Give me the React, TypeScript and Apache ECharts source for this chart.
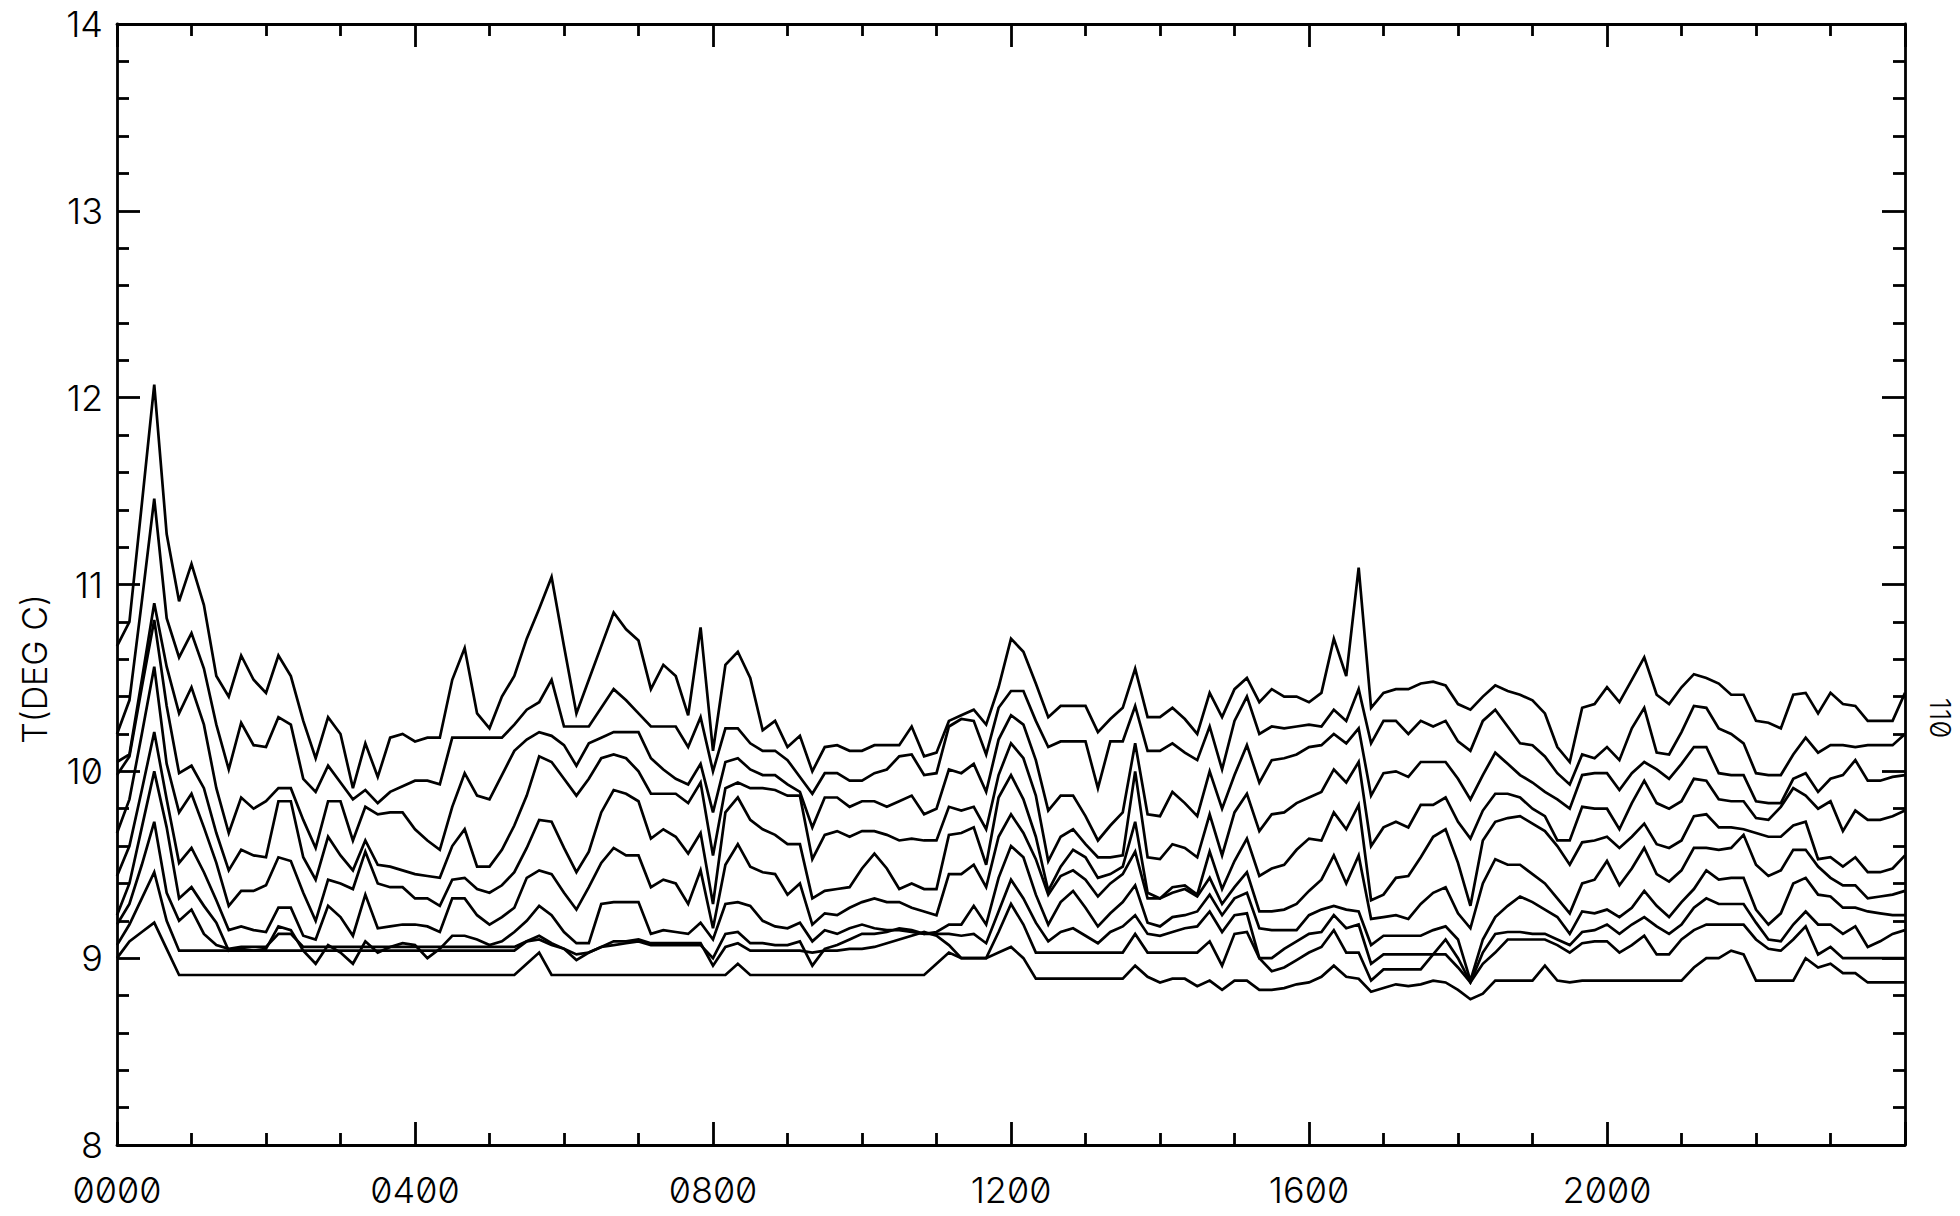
import React, { useEffect, useRef } from "react";
import * as echarts from "echarts";

// Sampling interval of the record (minutes) and axis settings
const STEP_MINUTES = 10;
const X_MIN_HOURS = 0;
const X_MAX_HOURS = 24;
const X_MAJOR_HOURS = 4;
const Y_MIN = 8;
const Y_MAX = 14;
const Y_MAJOR = 1;
const Y_NAME = "T(DEG C)";
const SIDE_NOTE = "110";

// Temperature traces (deg C), one value every 10 minutes, top trace first
const line1 = [
  10.67, 10.80, 11.43, 12.07, 11.27, 10.91, 11.11, 10.89, 10.51, 10.40,
  10.62, 10.49, 10.42, 10.62, 10.51, 10.27, 10.07, 10.29, 10.20, 9.91,
  10.15, 9.97, 10.18, 10.20, 10.16, 10.18, 10.18, 10.49, 10.66, 10.31,
  10.23, 10.40, 10.51, 10.71, 10.87, 11.04, 10.67, 10.31, 10.49, 10.67,
  10.85, 10.76, 10.70, 10.44, 10.57, 10.51, 10.30, 10.77, 10.11, 10.57,
  10.64, 10.50, 10.22, 10.27, 10.13, 10.19, 10.00, 10.13, 10.14, 10.11,
  10.11, 10.14, 10.14, 10.14, 10.24, 10.08, 10.10, 10.27, 10.30, 10.33,
  10.25, 10.45, 10.71, 10.64, 10.47, 10.29, 10.35, 10.35, 10.35, 10.21,
  10.28, 10.34, 10.55, 10.29, 10.29, 10.34, 10.28, 10.20, 10.42, 10.29,
  10.44, 10.50, 10.37, 10.44, 10.40, 10.40, 10.37, 10.42, 10.71, 10.51,
  11.09, 10.34, 10.42, 10.44, 10.44, 10.47, 10.48, 10.46, 10.36, 10.33,
  10.40, 10.46, 10.43, 10.41, 10.38, 10.31, 10.13, 10.05, 10.34, 10.36,
  10.45, 10.37, 10.49, 10.61, 10.41, 10.36, 10.45, 10.52, 10.50, 10.47,
  10.41, 10.41, 10.27, 10.26, 10.23, 10.41, 10.42, 10.31, 10.42, 10.36,
  10.35, 10.27, 10.27, 10.27, 10.42,
];
const line2 = [
  10.20, 10.38, 10.91, 11.46, 10.82, 10.61, 10.74, 10.55, 10.25, 10.01,
  10.26, 10.14, 10.13, 10.29, 10.25, 9.96, 9.89, 10.03, 9.94, 9.85,
  9.90, 9.83, 9.89, 9.92, 9.95, 9.95, 9.93, 10.18, 10.18, 10.18,
  10.18, 10.18, 10.25, 10.33, 10.37, 10.49, 10.24, 10.24, 10.24, 10.34,
  10.44, 10.38, 10.31, 10.24, 10.24, 10.24, 10.13, 10.29, 10.00, 10.23,
  10.23, 10.15, 10.11, 10.11, 10.06, 9.97, 9.88, 9.99, 9.99, 9.95,
  9.95, 9.99, 10.01, 10.08, 10.09, 9.98, 9.99, 10.24, 10.28, 10.27,
  10.09, 10.34, 10.43, 10.43, 10.27, 10.13, 10.16, 10.16, 10.16, 9.91,
  10.16, 10.16, 10.35, 10.11, 10.11, 10.15, 10.10, 10.06, 10.24, 10.01,
  10.27, 10.40, 10.20, 10.24, 10.23, 10.24, 10.25, 10.24, 10.33, 10.27,
  10.44, 10.15, 10.27, 10.27, 10.20, 10.27, 10.24, 10.27, 10.16, 10.11,
  10.27, 10.33, 10.24, 10.15, 10.14, 10.08, 9.99, 9.93, 10.09, 10.07,
  10.13, 10.06, 10.23, 10.34, 10.10, 10.09, 10.21, 10.35, 10.34, 10.23,
  10.20, 10.15, 9.99, 9.98, 9.98, 10.09, 10.18, 10.10, 10.14, 10.14,
  10.13, 10.14, 10.14, 10.14, 10.20,
];
const line3 = [
  10.05, 10.09, 10.49, 10.90, 10.56, 10.31, 10.45, 10.25, 9.91, 9.67,
  9.86, 9.80, 9.84, 9.91, 9.91, 9.74, 9.59, 9.84, 9.84, 9.63,
  9.81, 9.77, 9.78, 9.78, 9.69, 9.63, 9.58, 9.81, 9.99, 9.87,
  9.85, 9.98, 10.11, 10.17, 10.21, 10.19, 10.14, 10.03, 10.15, 10.18,
  10.21, 10.21, 10.21, 10.07, 10.01, 9.96, 9.93, 10.04, 9.78, 10.05,
  10.07, 10.01, 9.98, 9.98, 9.93, 9.89, 9.70, 9.86, 9.86, 9.81,
  9.84, 9.84, 9.81, 9.84, 9.87, 9.77, 9.80, 10.01, 9.99, 10.04,
  9.89, 10.17, 10.30, 10.25, 10.06, 9.79, 9.87, 9.87, 9.76, 9.63,
  9.71, 9.78, 10.15, 9.77, 9.76, 9.89, 9.83, 9.76, 10.00, 9.80,
  9.98, 10.14, 9.94, 10.06, 10.07, 10.09, 10.13, 10.14, 10.20, 10.15,
  10.23, 9.87, 9.99, 10.00, 9.97, 10.05, 10.05, 10.05, 9.96, 9.85,
  9.98, 10.10, 10.04, 9.98, 9.94, 9.89, 9.85, 9.80, 9.98, 9.99,
  9.99, 9.90, 9.99, 10.05, 10.01, 9.96, 10.04, 10.13, 10.13, 9.99,
  9.98, 9.98, 9.84, 9.83, 9.83, 9.96, 9.99, 9.89, 9.96, 9.98,
  10.06, 9.95, 9.95, 9.97, 9.98,
];
const line4 = [
  9.98, 10.08, 10.45, 10.81, 10.35, 9.99, 10.03, 9.91, 9.67, 9.47,
  9.58, 9.55, 9.54, 9.84, 9.84, 9.54, 9.42, 9.65, 9.55, 9.47,
  9.63, 9.50, 9.49, 9.47, 9.45, 9.44, 9.43, 9.60, 9.69, 9.49,
  9.49, 9.58, 9.71, 9.87, 10.08, 10.05, 9.96, 9.87, 9.96, 10.07,
  10.09, 10.07, 10.00, 9.88, 9.88, 9.88, 9.83, 9.94, 9.55, 9.91,
  9.94, 9.91, 9.91, 9.90, 9.87, 9.87, 9.53, 9.66, 9.68, 9.65,
  9.68, 9.68, 9.66, 9.63, 9.64, 9.63, 9.63, 9.81, 9.79, 9.81,
  9.69, 9.98, 10.15, 10.07, 9.87, 9.52, 9.65, 9.69, 9.61, 9.54,
  9.54, 9.55, 10.00, 9.54, 9.53, 9.61, 9.59, 9.54, 9.77, 9.55,
  9.78, 9.88, 9.68, 9.77, 9.78, 9.83, 9.86, 9.89, 10.01, 9.94,
  10.05, 9.60, 9.70, 9.73, 9.70, 9.82, 9.82, 9.86, 9.73, 9.64,
  9.79, 9.88, 9.88, 9.86, 9.80, 9.76, 9.63, 9.63, 9.81, 9.80,
  9.80, 9.69, 9.83, 9.95, 9.83, 9.80, 9.84, 9.96, 9.95, 9.85,
  9.84, 9.84, 9.75, 9.74, 9.81, 9.91, 9.87, 9.80, 9.84, 9.68,
  9.79, 9.74, 9.74, 9.76, 9.79,
];
const line5 = [
  9.67, 9.85, 10.20, 10.56, 10.04, 9.78, 9.88, 9.70, 9.51, 9.28,
  9.36, 9.36, 9.39, 9.54, 9.52, 9.35, 9.20, 9.42, 9.40, 9.37,
  9.57, 9.40, 9.38, 9.38, 9.32, 9.32, 9.28, 9.42, 9.43, 9.37,
  9.35, 9.39, 9.46, 9.59, 9.74, 9.73, 9.59, 9.46, 9.57, 9.78,
  9.90, 9.88, 9.84, 9.64, 9.69, 9.65, 9.56, 9.67, 9.29, 9.78,
  9.86, 9.74, 9.69, 9.66, 9.61, 9.61, 9.32, 9.36, 9.37, 9.38,
  9.48, 9.56, 9.48, 9.37, 9.40, 9.37, 9.37, 9.66, 9.67, 9.70,
  9.50, 9.86, 9.98, 9.85, 9.65, 9.36, 9.49, 9.58, 9.54, 9.43,
  9.45, 9.49, 9.73, 9.35, 9.32, 9.38, 9.39, 9.34, 9.57, 9.37,
  9.52, 9.64, 9.44, 9.48, 9.50, 9.58, 9.64, 9.63, 9.78, 9.69,
  9.82, 9.31, 9.34, 9.43, 9.44, 9.54, 9.65, 9.69, 9.51, 9.28,
  9.63, 9.73, 9.75, 9.76, 9.72, 9.68, 9.60, 9.50, 9.62, 9.63,
  9.65, 9.59, 9.65, 9.72, 9.61, 9.59, 9.63, 9.76, 9.77, 9.70,
  9.70, 9.69, 9.67, 9.65, 9.65, 9.71, 9.73, 9.53, 9.54, 9.49,
  9.54, 9.46, 9.46, 9.48, 9.55,
];
const line6 = [
  9.44, 9.60, 9.90, 10.21, 9.85, 9.51, 9.59, 9.46, 9.31, 9.15,
  9.17, 9.15, 9.14, 9.27, 9.27, 9.12, 9.10, 9.28, 9.22, 9.12,
  9.34, 9.16, 9.17, 9.18, 9.18, 9.17, 9.14, 9.32, 9.32, 9.23,
  9.18, 9.22, 9.27, 9.43, 9.47, 9.45, 9.35, 9.26, 9.38, 9.51,
  9.59, 9.55, 9.55, 9.38, 9.42, 9.40, 9.29, 9.47, 9.16, 9.50,
  9.61, 9.49, 9.46, 9.45, 9.34, 9.40, 9.18, 9.24, 9.23, 9.27,
  9.30, 9.32, 9.30, 9.30, 9.27, 9.25, 9.23, 9.45, 9.45, 9.50,
  9.38, 9.65, 9.77, 9.67, 9.53, 9.34, 9.44, 9.47, 9.42, 9.33,
  9.40, 9.45, 9.57, 9.32, 9.32, 9.35, 9.37, 9.33, 9.43, 9.29,
  9.38, 9.46, 9.25, 9.25, 9.26, 9.29, 9.36, 9.42, 9.55, 9.40,
  9.55, 9.21, 9.22, 9.23, 9.21, 9.29, 9.35, 9.38, 9.24, 9.16,
  9.40, 9.53, 9.50, 9.50, 9.45, 9.40, 9.32, 9.24, 9.40, 9.42,
  9.52, 9.39, 9.48, 9.59, 9.45, 9.41, 9.47, 9.59, 9.59, 9.58,
  9.59, 9.66, 9.50, 9.44, 9.47, 9.58, 9.58, 9.49, 9.43, 9.39,
  9.39, 9.32, 9.33, 9.34, 9.36,
];
const line7 = [
  9.23, 9.40, 9.70, 10.00, 9.70, 9.32, 9.38, 9.28, 9.19, 9.04,
  9.05, 9.04, 9.05, 9.17, 9.15, 9.04, 8.97, 9.07, 9.03, 8.97,
  9.09, 9.03, 9.06, 9.08, 9.07, 9.00, 9.05, 9.12, 9.12, 9.10,
  9.07, 9.09, 9.14, 9.20, 9.28, 9.23, 9.14, 9.08, 9.08, 9.29,
  9.30, 9.30, 9.30, 9.13, 9.15, 9.14, 9.13, 9.19, 9.10, 9.29,
  9.30, 9.28, 9.20, 9.17, 9.16, 9.19, 9.09, 9.15, 9.13, 9.16,
  9.18, 9.16, 9.15, 9.15, 9.14, 9.13, 9.14, 9.18, 9.18, 9.28,
  9.18, 9.43, 9.60, 9.54, 9.34, 9.18, 9.30, 9.36, 9.27, 9.17,
  9.24, 9.30, 9.39, 9.19, 9.17, 9.22, 9.23, 9.25, 9.34, 9.23,
  9.32, 9.35, 9.16, 9.15, 9.15, 9.15, 9.23, 9.26, 9.28, 9.26,
  9.25, 9.07, 9.12, 9.12, 9.12, 9.12, 9.15, 9.17, 9.10, 8.88,
  9.10, 9.22, 9.28, 9.33, 9.30, 9.26, 9.22, 9.13, 9.25, 9.24,
  9.26, 9.22, 9.27, 9.36, 9.28, 9.22, 9.30, 9.37, 9.47, 9.42,
  9.43, 9.43, 9.26, 9.18, 9.24, 9.40, 9.43, 9.34, 9.33, 9.27,
  9.27, 9.25, 9.24, 9.23, 9.23,
];
const line8 = [
  9.18, 9.29, 9.50, 9.73, 9.35, 9.20, 9.26, 9.13, 9.07, 9.05,
  9.06, 9.06, 9.06, 9.13, 9.13, 9.06, 9.06, 9.06, 9.06, 9.06,
  9.06, 9.06, 9.06, 9.06, 9.06, 9.06, 9.06, 9.06, 9.06, 9.06,
  9.06, 9.06, 9.06, 9.09, 9.12, 9.08, 9.05, 8.99, 9.03, 9.06,
  9.07, 9.08, 9.09, 9.07, 9.07, 9.07, 9.07, 9.07, 9.00, 9.13,
  9.14, 9.08, 9.08, 9.07, 9.07, 9.09, 8.96, 9.05, 9.07, 9.10,
  9.13, 9.13, 9.14, 9.16, 9.15, 9.13, 9.13, 9.13, 9.12, 9.13,
  9.08, 9.25, 9.42, 9.32, 9.19, 9.09, 9.14, 9.16, 9.12, 9.08,
  9.14, 9.17, 9.23, 9.13, 9.12, 9.14, 9.16, 9.17, 9.25, 9.14,
  9.23, 9.24, 9.00, 9.00, 9.05, 9.09, 9.13, 9.14, 9.23, 9.16,
  9.18, 8.97, 9.02, 9.02, 9.02, 9.02, 9.02, 9.02, 8.95, 8.87,
  9.03, 9.13, 9.14, 9.14, 9.13, 9.13, 9.10, 9.07, 9.14, 9.15,
  9.18, 9.13, 9.18, 9.22, 9.17, 9.13, 9.18, 9.27, 9.32, 9.29,
  9.29, 9.29, 9.19, 9.10, 9.09, 9.18, 9.25, 9.18, 9.18, 9.13,
  9.17, 9.06, 9.09, 9.13, 9.15,
];
const line9 = [
  9.07, 9.18, 9.32, 9.46, 9.20, 9.04, 9.04, 9.04, 9.04, 9.04,
  9.04, 9.04, 9.04, 9.04, 9.04, 9.04, 9.04, 9.04, 9.04, 9.04,
  9.04, 9.04, 9.04, 9.04, 9.04, 9.04, 9.04, 9.04, 9.04, 9.04,
  9.04, 9.04, 9.04, 9.09, 9.10, 9.07, 9.05, 9.02, 9.03, 9.06,
  9.09, 9.09, 9.10, 9.08, 9.08, 9.08, 9.08, 9.08, 8.96, 9.06,
  9.08, 9.04, 9.04, 9.04, 9.04, 9.04, 9.03, 9.04, 9.04, 9.05,
  9.05, 9.06, 9.08, 9.10, 9.12, 9.14, 9.12, 9.07, 9.00, 9.00,
  9.00, 9.14, 9.29, 9.18, 9.03, 9.03, 9.03, 9.03, 9.03, 9.03,
  9.03, 9.03, 9.13, 9.03, 9.03, 9.03, 9.03, 9.03, 9.09, 8.96,
  9.13, 9.14, 9.00, 8.93, 8.95, 8.99, 9.03, 9.06, 9.15, 9.03,
  9.03, 8.88, 8.94, 8.94, 8.94, 8.94, 9.02, 9.10, 9.00, 8.87,
  8.97, 9.03, 9.10, 9.10, 9.10, 9.10, 9.07, 9.03, 9.08, 9.09,
  9.09, 9.03, 9.07, 9.12, 9.02, 9.02, 9.10, 9.15, 9.18, 9.18,
  9.18, 9.18, 9.10, 9.05, 9.04, 9.10, 9.17, 9.02, 9.06, 9.00,
  9.00, 9.00, 9.00, 9.00, 9.00,
];
const line10 = [
  9.00, 9.09, 9.14, 9.19, 9.05, 8.91, 8.91, 8.91, 8.91, 8.91,
  8.91, 8.91, 8.91, 8.91, 8.91, 8.91, 8.91, 8.91, 8.91, 8.91,
  8.91, 8.91, 8.91, 8.91, 8.91, 8.91, 8.91, 8.91, 8.91, 8.91,
  8.91, 8.91, 8.91, 8.97, 9.03, 8.91, 8.91, 8.91, 8.91, 8.91,
  8.91, 8.91, 8.91, 8.91, 8.91, 8.91, 8.91, 8.91, 8.91, 8.91,
  8.97, 8.91, 8.91, 8.91, 8.91, 8.91, 8.91, 8.91, 8.91, 8.91,
  8.91, 8.91, 8.91, 8.91, 8.91, 8.91, 8.97, 9.03, 9.00, 9.00,
  9.00, 9.03, 9.06, 9.00, 8.89, 8.89, 8.89, 8.89, 8.89, 8.89,
  8.89, 8.89, 8.96, 8.90, 8.87, 8.89, 8.89, 8.85, 8.88, 8.83,
  8.88, 8.88, 8.83, 8.83, 8.84, 8.86, 8.87, 8.90, 8.96, 8.90,
  8.89, 8.82, 8.84, 8.86, 8.85, 8.86, 8.88, 8.87, 8.83, 8.78,
  8.81, 8.88, 8.88, 8.88, 8.88, 8.96, 8.88, 8.87, 8.88, 8.88,
  8.88, 8.88, 8.88, 8.88, 8.88, 8.88, 8.88, 8.95, 9.00, 9.00,
  9.04, 9.02, 8.88, 8.88, 8.88, 8.88, 9.00, 8.95, 8.97, 8.92,
  8.92, 8.87, 8.87, 8.87, 8.87,
];

const traces = [line1, line2, line3, line4, line5, line6, line7, line8, line9, line10];

const FONT = "Inter, 'DejaVu Sans', sans-serif";
const INK = "#000";

export default function App() {
  const ref = useRef<HTMLDivElement>(null);

  useEffect(() => {
    if (!ref.current) return;
    const chart = echarts.init(ref.current, null, { renderer: "svg" });

    const axisLine = { show: true, onZero: false, lineStyle: { color: INK, width: 2.8 } };
    const majorTick = { show: true, inside: true, length: 23, lineStyle: { color: INK, width: 2.8 } };
    const minorTickX = { show: true, splitNumber: 4, length: 12, lineStyle: { color: INK, width: 2.8 } };
    const minorTickY = { show: true, splitNumber: 5, length: 12, lineStyle: { color: INK, width: 2.8 } };

    const hourLabel = (v: number) =>
      v >= X_MAX_HOURS ? "" : String(Math.round(v)).padStart(2, "0") + "00";

    const series = traces.map((vals, idx) => ({
      type: "line",
      name: "trace " + (idx + 1),
      data: vals.map((v, i) => [(i * STEP_MINUTES) / 60, v]),
      symbol: "none",
      showSymbol: false,
      silent: true,
      lineStyle: { color: INK, width: 2.7, join: "miter" },
      xAxisIndex: 0,
      yAxisIndex: 0,
      z: 3,
    }));

    chart.setOption({
      animation: false,
      backgroundColor: "#ffffff",
      grid: { left: 117, right: 55, top: 24, bottom: 71, containLabel: false },
      xAxis: [
        {
          type: "value",
          position: "bottom",
          min: X_MIN_HOURS,
          max: X_MAX_HOURS,
          interval: X_MAJOR_HOURS,
          axisLine,
          axisTick: majorTick,
          minorTick: minorTickX,
          splitLine: { show: false },
          minorSplitLine: { show: false },
          axisLabel: {
            show: true,
            margin: 27,
            color: INK,
            fontFamily: FONT,
            fontSize: 36,
            lineHeight: 36,
            fontWeight: 300,
            formatter: hourLabel,
          },
        },
        {
          type: "value",
          position: "top",
          min: X_MIN_HOURS,
          max: X_MAX_HOURS,
          interval: X_MAJOR_HOURS,
          axisLine,
          axisTick: majorTick,
          minorTick: minorTickX,
          splitLine: { show: false },
          minorSplitLine: { show: false },
          axisLabel: { show: false },
        },
      ],
      yAxis: [
        {
          type: "value",
          position: "left",
          min: Y_MIN,
          max: Y_MAX,
          interval: Y_MAJOR,
          axisLine,
          axisTick: majorTick,
          minorTick: minorTickY,
          splitLine: { show: false },
          minorSplitLine: { show: false },
          axisLabel: {
            show: true,
            margin: 14,
            color: INK,
            fontFamily: FONT,
            fontSize: 36,
            fontWeight: 300,
            formatter: (v: number) => String(v),
          },
        },
        {
          type: "value",
          position: "right",
          min: Y_MIN,
          max: Y_MAX,
          interval: Y_MAJOR,
          axisLine,
          axisTick: majorTick,
          minorTick: minorTickY,
          splitLine: { show: false },
          minorSplitLine: { show: false },
          axisLabel: { show: false },
        },
      ],
      graphic: [
        {
          type: "text",
          x: 34,
          y: 669,
          rotation: Math.PI / 2,
          silent: true,
          style: {
            text: Y_NAME,
            fill: INK,
            font: "300 34px " + FONT,
            align: "center",
            verticalAlign: "middle",
          },
        },
        {
          type: "text",
          x: 1940,
          y: 718,
          rotation: -Math.PI / 2,
          silent: true,
          style: {
            text: SIDE_NOTE,
            fill: INK,
            font: "300 29px " + FONT,
            align: "center",
            verticalAlign: "middle",
          },
        },
      ],
      series,
    });

    // plotter-style slashed zeros
    ref.current.querySelectorAll("text").forEach((t) => {
      (t as SVGTextElement).style.fontFeatureSettings = '"zero" 1';
    });

    return () => {
      chart.dispose();
    };
  }, []);

  return (
    <div
      ref={ref}
      style={{
        position: "absolute",
        left: 0,
        top: 0,
        width: 1960,
        height: 1216,
        background: "#fff",
        fontFeatureSettings: '"zero" 1',
      }}
    />
  );
}
